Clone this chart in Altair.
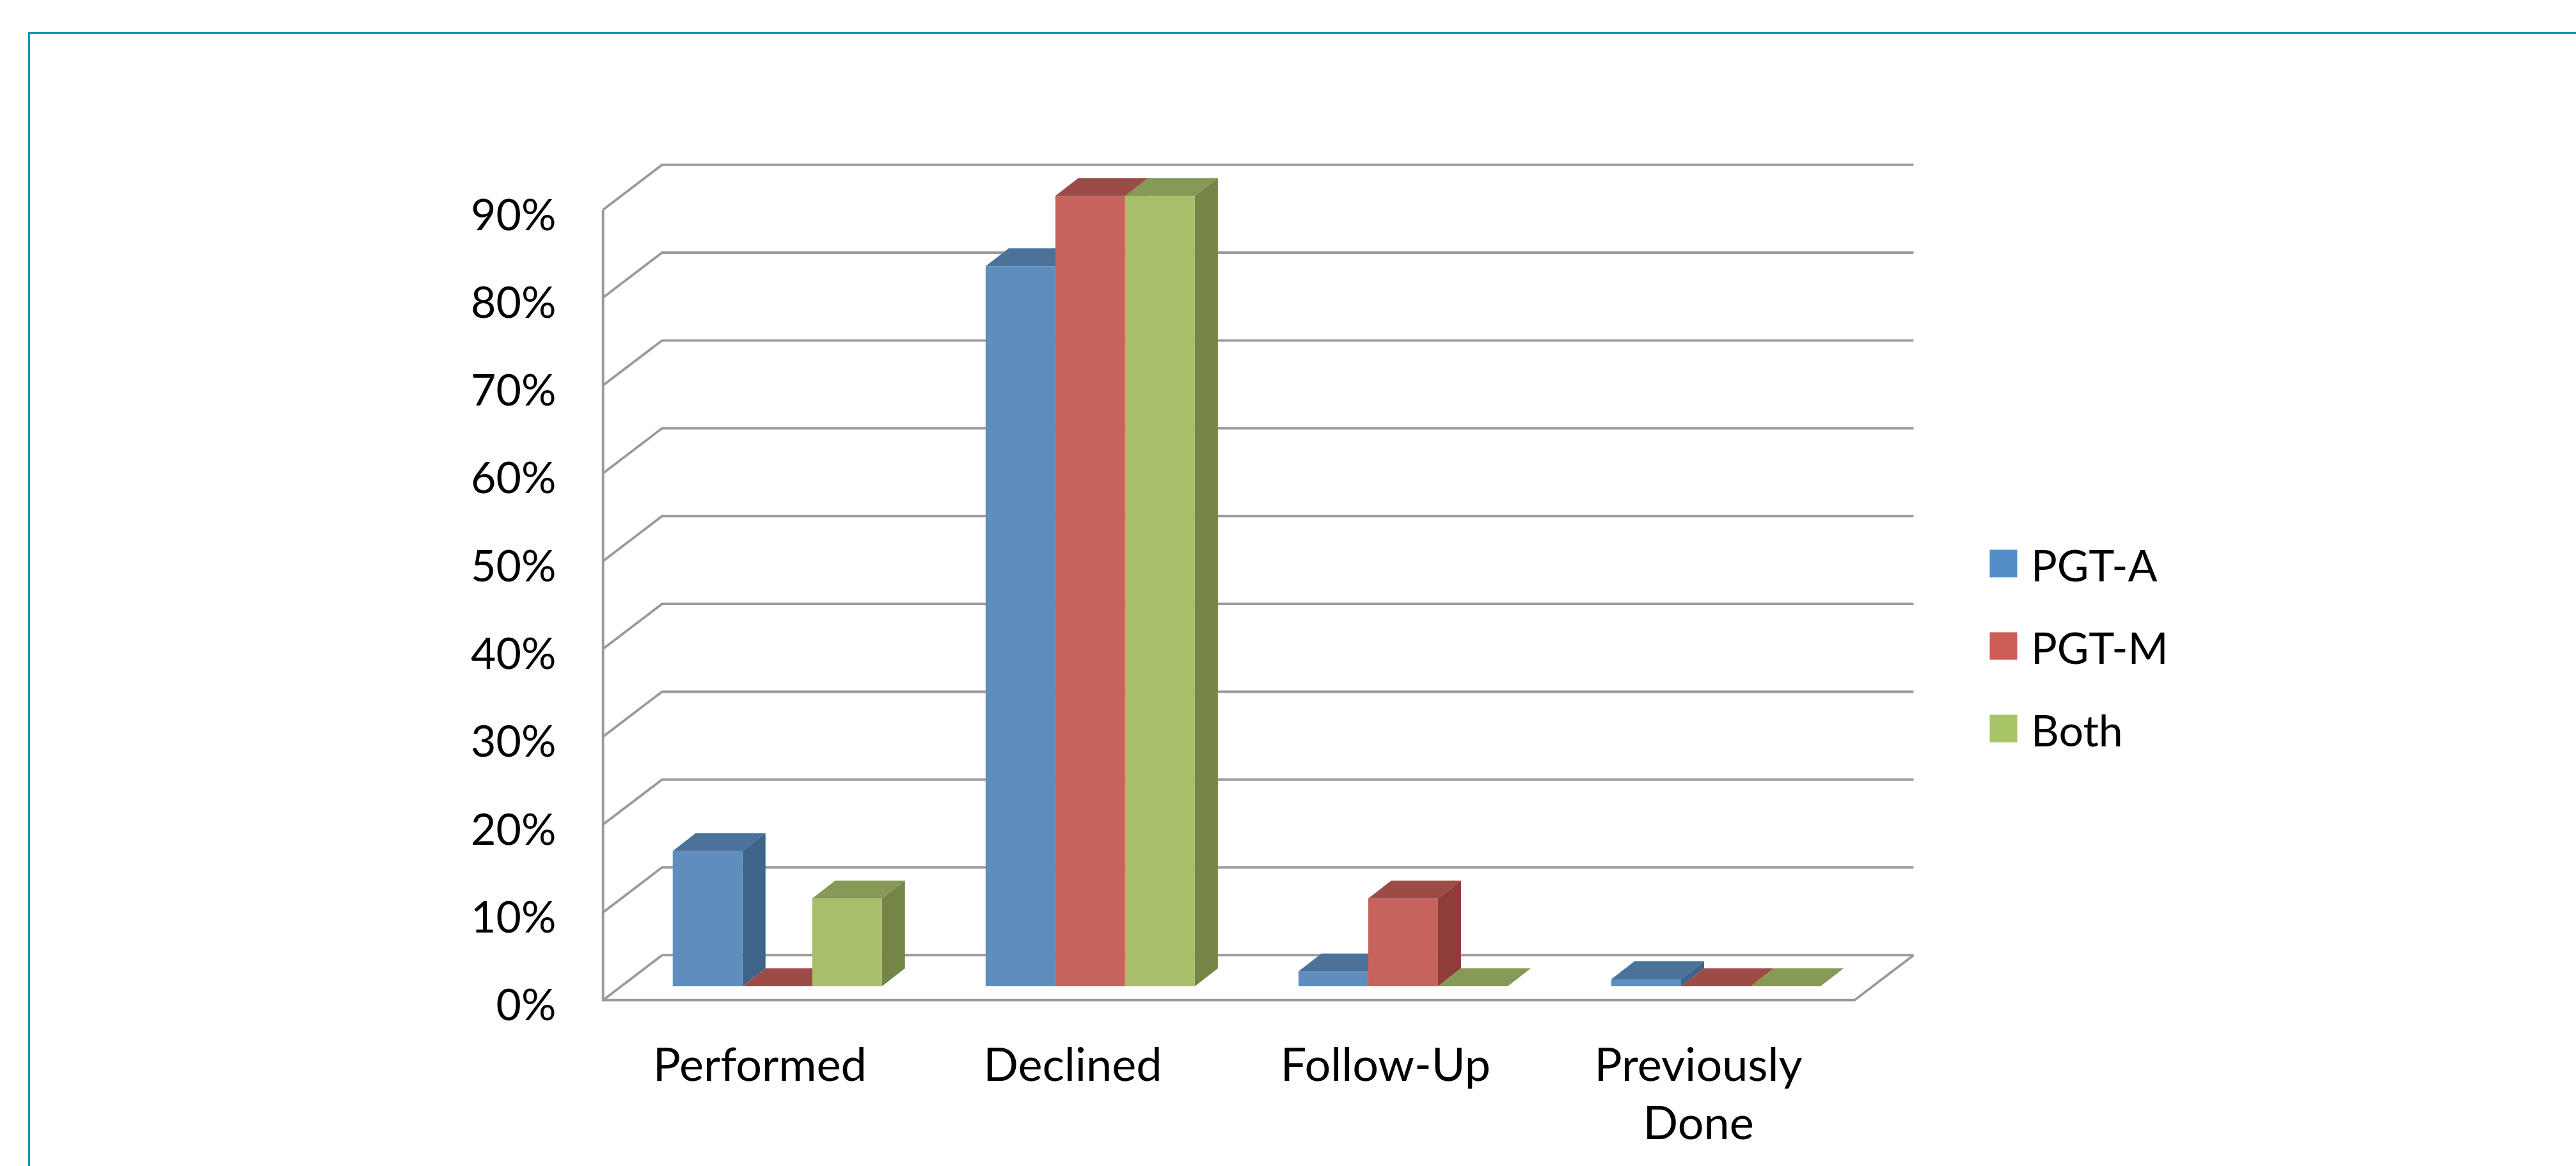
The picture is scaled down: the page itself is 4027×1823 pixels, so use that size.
import json

import altair as alt
import pandas as pd

# Chart values, percent of patients
categories = ["Performed", "Declined", "Follow-Up", "Previously Done"]
series = ["PGT-A", "PGT-M", "Both"]
pgt_a = [15.4, 82.0, 1.7, 0.8]
pgt_m = [0.0, 90.0, 10.0, 0.0]
both = [10.0, 90.0, 0.0, 0.0]
percent_ticks = [0, 10, 20, 30, 40, 50, 60, 70, 80, 90]

series_values = dict(zip(series, [pgt_a, pgt_m, both]))

# Shades of each series: legend swatch and the three visible faces of a column
legend_colors = ["#548EC8", "#CD5D57", "#A7C566"]
front_shade = {"PGT-A": "#5E8DBE", "PGT-M": "#C7635D", "Both": "#A7BF6B"}
top_shade = {"PGT-A": "#4A729B", "PGT-M": "#9C4C47", "Both": "#869956"}
side_shade = {"PGT-A": "#3C6589", "PGT-M": "#8E3D3A", "Both": "#748546"}

GRID_COLOR = "#9A9A9A"
FRAME_COLOR = "#0E96B8"
TEXT_FONT = "Lato"
TEXT_SIZE = 68
CATEGORY_TEXT_SIZE = 72

W, H = 4027, 1823

# Oblique projection, x in category slots and y in percentage points
SLOT_PX = 489.1
PCT_PX = 13.73
ORIGIN_X = 942.7
ORIGIN_Y = 1563.7
x_domain = [-ORIGIN_X / SLOT_PX, (W - ORIGIN_X) / SLOT_PX]
y_domain = [-(H - ORIGIN_Y) / PCT_PX, ORIGIN_Y / PCT_PX]

WALL_DX, WALL_DY = 0.1887, 5.12      # depth of the floor and walls
BAR_DX, BAR_DY = 0.0736, 2.04        # depth of one column
BASE_DX, BASE_DY = 0.0572, 1.58      # where the column fronts stand on the floor
BAR_W = 0.2229

# Square raised a little, so the swatch sits above the middle of its label
LEGEND_SWATCH = "M-1,-1.372H1V0.628H-1Z"


def column_faces():
    """Polygons in back-to-front order, so nearer columns cover farther ones."""
    rows = []

    def add(face, shade, points):
        for x, y, y2 in points:
            rows.append({"face": face, "shade": shade, "x": x, "y": y, "y2": y2})

    for c in range(len(categories)):
        for s, name in enumerate(series):
            v = series_values[name][c]
            x0 = c + 0.5 + BASE_DX + (s - 1.5) * BAR_W
            x1 = x0 + BAR_W
            base = BASE_DY
            top = base + v
            key = f"{c}-{s}"
            add(f"{key}-top", top_shade[name], [
                (x0, top, top),
                (x0 + BAR_DX, top + BAR_DY, top),
                (x1, top + BAR_DY, top),
                (x1 + BAR_DX, top + BAR_DY, top + BAR_DY),
            ])
            add(f"{key}-side", side_shade[name], [
                (x1, top, base),
                (x1 + BAR_DX, top + BAR_DY, base + BAR_DY),
            ])
            add(f"{key}-front", front_shade[name], [
                (x0, top, base),
                (x1, top, base),
            ])
    return pd.DataFrame(rows)


def wall_lines():
    rows = []

    def add(line, points):
        for i, (x, y) in enumerate(points):
            rows.append({"line": line, "i": i, "x": x, "y": y})

    n = len(categories)
    for t in percent_ticks:
        add(f"tick-{t}", [(0, t), (WALL_DX, t + WALL_DY), (n + WALL_DX, t + WALL_DY)])
    add("axis", [(0, percent_ticks[-1]), (0, 0), (n, 0), (n + WALL_DX, WALL_DY)])
    return pd.DataFrame(rows)


x_scale = alt.Scale(domain=x_domain, range=[0, W], nice=False, zero=False)
y_scale = alt.Scale(domain=y_domain, range=[H, 0], nice=False, zero=False)

category_lines = [c.split(" ", 1) if " " in c else c for c in categories]
category_label_expr = f"{json.dumps(category_lines)}[floor(datum.value)]"

x_axis = alt.Axis(
    values=[i + 0.5 for i in range(len(categories))],
    labelExpr=category_label_expr,
    title=None, domain=False, ticks=False, grid=False,
    labelFont=TEXT_FONT, labelFontSize=CATEGORY_TEXT_SIZE, labelColor="#000000",
    labelBaseline="alphabetic", labelPadding=0, labelLineHeight=91,
    labelAngle=0, labelOverlap=False, labelFlush=False, labelBound=False,
    labelLimit=1000, offset=-(H - 1689),
)
y_axis = alt.Axis(
    values=percent_ticks,
    labelExpr="datum.value + '%'",
    title=None, domain=False, ticks=False, grid=False,
    labelFont=TEXT_FONT, labelFontSize=TEXT_SIZE, labelColor="#000000",
    labelAlign="right", labelBaseline="middle", labelPadding=0,
    labelOffset=11, labelOverlap=False, labelFlush=False, labelBound=False,
    labelLimit=1000, offset=-869,
)

walls = alt.Chart(wall_lines()).mark_line(
    color=GRID_COLOR, strokeWidth=3.8, strokeJoin="miter", clip=False
).encode(
    x=alt.X("x:Q", scale=x_scale, axis=x_axis),
    y=alt.Y("y:Q", scale=y_scale, axis=y_axis),
    detail="line:N",
    order="i:Q",
)

columns = alt.Chart(column_faces()).mark_area(interpolate="linear").encode(
    x=alt.X("x:Q", scale=x_scale, axis=x_axis),
    y=alt.Y("y:Q", scale=y_scale, axis=y_axis),
    y2="y2:Q",
    fill=alt.Fill("shade:N", scale=None, legend=None),
    detail="face:N",
)

# Zero-sized marks that carry the series colours for the legend
legend_layer = alt.Chart(pd.DataFrame({"series": series, "x": [0.0] * 3, "y": [0.0] * 3})).mark_rect().encode(
    x=alt.X("x:Q", scale=x_scale, axis=x_axis),
    x2="x:Q",
    y=alt.Y("y:Q", scale=y_scale, axis=y_axis),
    y2="y:Q",
    color=alt.Color(
        "series:N",
        scale=alt.Scale(domain=series, range=legend_colors),
        legend=alt.Legend(
            title=None, orient="none", legendX=3098, legendY=855,
            symbolType=LEGEND_SWATCH, symbolSize=1849, symbolStrokeWidth=0,
            labelFont=TEXT_FONT, labelFontSize=TEXT_SIZE, labelColor="#000000",
            labelOffset=9, labelLimit=1000, rowPadding=61, padding=0,
        ),
    ),
)

# Page frame running off the right and bottom edges
frame_left = alt.Chart(pd.DataFrame({"k": [0]})).mark_rule(color=FRAME_COLOR, strokeWidth=3).encode(
    x=alt.value(45.5), y=alt.value(51.5), y2=alt.value(H)
)
frame_top = alt.Chart(pd.DataFrame({"k": [0]})).mark_rule(color=FRAME_COLOR, strokeWidth=3).encode(
    y=alt.value(51.5), x=alt.value(44), x2=alt.value(W)
)

chart = (
    alt.layer(walls, columns, legend_layer, frame_left, frame_top)
    .properties(
        width=W,
        height=H,
        padding=0,
        autosize=alt.AutoSizeParams(type="none"),
        background="#FFFFFF",
    )
    .configure_view(stroke=None)
)

chart.save("out.html", embed_options={"renderer": "svg", "actions": False})
